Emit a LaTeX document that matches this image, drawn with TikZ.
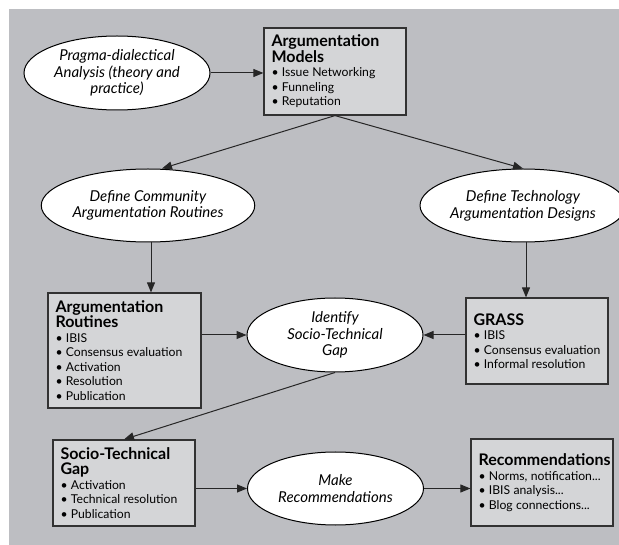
\documentclass[tikz,border=0pt]{standalone}
\usepackage{fontspec}
\setmainfont{Lato}
\usetikzlibrary{shapes.geometric,arrows.meta}
\definecolor{bggray}{RGB}{189,190,194}
\definecolor{boxgray}{RGB}{212,213,215}
\definecolor{edgegray}{RGB}{50,50,50}
\newcommand{\ttlfont}{\fontsize{16}{15.5}\selectfont\bfseries}
\newcommand{\itmfont}{\fontsize{12.2}{14.5}\selectfont}
\newcommand{\itm}[1]{\mbox{\textbullet\ #1}}
\begin{document}
\begin{tikzpicture}[x=1pt,y=-1pt,
  oval/.style={ellipse,draw=black,line width=1pt,fill=white,inner sep=0pt,align=center,
    font=\fontsize{15}{16.7}\selectfont\itshape},
  infobox/.style={rectangle,draw=edgegray,line width=1.2pt,fill=boxgray,inner xsep=7.5pt,inner ysep=3pt,
    align=left},
  conn/.style={draw=black!85,line width=1pt,-{Triangle[length=10pt,width=8pt]}}]
\useasboundingbox (0,0) rectangle (619,545);
\fill[bggray] (9,9) rectangle (619,545);

\node[oval,minimum width=186pt,minimum height=74pt] (pragma) at (117,73)
  {Pragma-dialectical\\Analysis (theory and\\practice)};
\node[infobox,text width=127pt,minimum height=87pt] (models) at (335,71.5)
  {{\ttlfont Argumentation\\Models\par}{\itmfont \itm{Issue Networking}\\\itm{Funneling}\\\itm{Reputation}\par}};

\node[oval,minimum width=180pt,minimum height=73pt] (community) at (148,205.5)
  {Define Community\\Argumentation Routines};
\node[oval,minimum width=184pt,minimum height=73pt] (tech) at (523,205.5)
  {Define Technology\\Argumentation Designs};

\node[infobox,text width=138pt,minimum height=115pt] (routines) at (124.5,350.5)
  {{\ttlfont Argumentation\\Routines\par}{\itmfont \itm{IBIS}\\\itm{Consensus evaluation}\\\itm{Activation}\\\itm{Resolution}\\\itm{Publication}\par}};
\node[oval,minimum width=176pt,minimum height=74pt] (identify) at (335,335)
  {Identify\\Socio-Technical\\Gap};
\node[infobox,text width=127pt,minimum height=86pt] (grass) at (537,341)
  {{\ttlfont GRASS\par}{\itmfont \itm{IBIS}\\\itm{Consensus evaluation}\\\itm{Informal resolution}\par}};

\node[infobox,text width=127pt,minimum height=86pt] (stgap) at (124,483)
  {{\ttlfont Socio-Technical\\Gap\par}{\itmfont \itm{Activation}\\\itm{Technical resolution}\\\itm{Publication}\par}};
\node[oval,minimum width=176pt,minimum height=73pt] (makerec) at (335.5,488.5)
  {Make\\Recommendations};
\node[infobox,text width=127pt,minimum height=87pt] (recs) at (542,482.5)
  {{\ttlfont Recommendations\par}{\itmfont \itm{Norms, notification...}\\\itm{IBIS analysis...}\\\itm{Blog connections...}\par}};

\draw[conn] (pragma.east) -- (models.west |- pragma.east);
\draw[conn] (models.south) -- ([xshift=14pt]community.north);
\draw[conn] (models.south) -- (tech.north);
\draw[conn] ([xshift=3pt]community.south) -- ([xshift=3pt]community.south |- routines.north);
\draw[conn] ([xshift=3pt]tech.south) -- ([xshift=3pt]tech.south |- grass.north);
\draw[conn] (routines.east |- identify.west) -- (identify.west);
\draw[conn] (grass.west |- identify.east) -- (identify.east);
\draw[conn] (identify.south) -- (stgap.north);
\draw[conn] (stgap.east |- makerec.west) -- (makerec.west);
\draw[conn] (makerec.east) -- (makerec.east -| recs.west);
\end{tikzpicture}
\end{document}
